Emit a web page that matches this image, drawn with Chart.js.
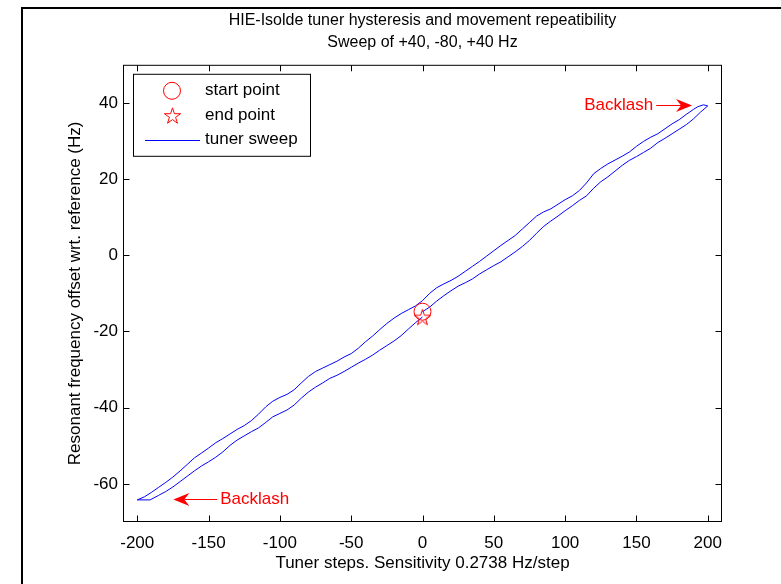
<!DOCTYPE html>
<html><head><meta charset="utf-8">
<script src="https://cdn.jsdelivr.net/npm/chart.js@4.4.0/dist/chart.umd.min.js"></script>
<style>
html,body{margin:0;padding:0;background:#fff;}
#wrap{position:relative;width:781px;height:584px;overflow:hidden;background:#fff;}
#frame{position:absolute;left:21px;top:7px;width:900px;height:700px;border-left:2px solid #000;border-top:2px solid #000;}
canvas{position:absolute;left:0;top:0;}
</style></head><body>
<div id="wrap"><div id="frame"></div><canvas id="c" width="781" height="584"></canvas></div>
<script>
// ---- text ----
const titleLines = ['HIE-Isolde tuner hysteresis and movement repeatibility', 'Sweep of +40, -80, +40 Hz'];
const xLabel = 'Tuner steps. Sensitivity 0.2738 Hz/step';
const yLabel = 'Resonant frequency offset wrt. reference (Hz)';
const legendLabels = ['start point', 'end point', 'tuner sweep'];
const noteText = 'Backlash';

// ---- axes ----
const xRange = [-210, 210];
const yRange = [-70, 50];
const xTicks = [-200, -150, -100, -50, 0, 50, 100, 150, 200];
const yTicks = [-60, -40, -20, 0, 20, 40];

// ---- sweep data (steps, Hz) ----
// leg 1: 0 -> +200 steps
const upSteps = [0,5,10,15,20,25,30,35,40,45,50,55,60,65,70,75,80,85,90,95,100,105,110,115,120,125,130,135,140,145,150,155,160,165,170,175,180,185,190,195,200];
const upFreq  = [-14.8,-13.6,-12.0,-10.6,-9.3,-8.1,-7.2,-6.2,-4.9,-3.8,-2.7,-1.7,-0.4,0.9,2.3,3.9,5.8,7.6,9.0,10.3,11.7,13.0,14.4,15.6,17.6,19.3,20.6,22.1,23.6,24.9,25.9,27.0,28.1,29.6,30.7,31.9,33.1,34.3,35.8,37.6,39.2];
// leg 2: +200 -> -200 steps
const downSteps = [197,193,190,185,180,175,170,165,160,155,150,145,140,135,130,125,120,115,110,105,100,95,90,85,80,75,70,65,60,55,50,45,40,35,30,25,20,15,10,5,0,-5,-10,-15,-20,-25,-30,-35,-40,-45,-50,-55,-60,-65,-70,-75,-80,-85,-90,-95,-100,-105,-110,-115,-120,-125,-130,-135,-140,-145,-150,-155,-160,-165,-170,-175,-180,-185,-190,-195,-200];
const downFreq  = [39.5,39.0,38.3,37.0,35.6,34.5,33.2,31.9,31.0,29.9,28.6,27.1,26.0,25.0,24.0,22.8,21.4,19.0,17.0,15.6,14.6,13.4,12.2,11.4,10.3,8.6,6.9,5.2,3.9,2.6,1.2,-0.2,-1.6,-2.9,-4.2,-5.5,-6.6,-7.5,-8.5,-10.0,-11.9,-13.3,-14.3,-15.3,-16.5,-17.9,-19.5,-21.2,-22.7,-24.4,-25.8,-26.7,-27.8,-28.7,-29.6,-30.5,-31.8,-33.5,-35.3,-36.5,-37.3,-38.3,-39.8,-41.7,-43.4,-44.7,-45.7,-46.9,-48.1,-49.2,-50.6,-51.9,-53.2,-54.9,-56.6,-58.2,-59.6,-60.9,-62.2,-63.4,-64.2];
// leg 3: -200 -> 0 steps
const returnSteps = [-191,-185,-180,-175,-170,-165,-160,-155,-150,-145,-140,-135,-130,-125,-120,-115,-110,-105,-100,-95,-90,-85,-80,-75,-70,-65,-60,-55,-50,-45,-40,-35,-30,-25,-20,-15,-10,-5,0];
const returnFreq  = [-64.2,-63.0,-62.0,-60.8,-59.4,-58.0,-56.6,-55.3,-54.2,-53.0,-51.6,-49.9,-48.5,-47.4,-46.3,-45.3,-43.9,-42.4,-41.5,-40.6,-39.3,-37.5,-35.9,-34.6,-33.5,-32.3,-31.5,-30.5,-29.4,-28.3,-27.3,-26.2,-24.9,-23.7,-22.5,-21.1,-19.4,-17.7,-16.2];

const startPoint = [0, -14.8];
const endPoint = [0, -16.2];

// annotation anchors (data coords): [textEdgeX, tipX, y]
const noteTop = [162.5, 189, 39.45];
const noteBottom = [-142.5, -174.7, -64.0];

// ---- build ----
const FONT = "'Liberation Sans', Arial, Helvetica, sans-serif";
Chart.defaults.font.family = FONT;
Chart.defaults.color = '#000';

const toPts = (xs, ys) => xs.map((v, i) => ({x: v, y: ys[i]}));
const sweep = [].concat(toPts(upSteps, upFreq), toPts(downSteps, downFreq), toPts(returnSteps, returnFreq));

function makeStar(R, color) {
  const s = Math.ceil(2 * R + 4);
  const c = document.createElement('canvas');
  c.width = s; c.height = s;
  const g = c.getContext('2d');
  g.strokeStyle = color; g.lineWidth = 1;
  g.beginPath();
  const cx = s / 2, cy = s / 2 + R * 0.1;
  for (let k = 0; k < 10; k++) {
    const r = k % 2 ? R * 0.382 : R;
    const a = -Math.PI / 2 + k * Math.PI / 5;
    const px = cx + r * Math.cos(a), py = cy + r * Math.sin(a);
    if (k) g.lineTo(px, py); else g.moveTo(px, py);
  }
  g.closePath(); g.stroke();
  return c;
}
const starImg = makeStar(8.5, '#ff0000');

const boxPlugin = {
  id: 'boxTicks',
  afterDraw(chart) {
    const {ctx, chartArea: a, scales: {x, y}} = chart;
    ctx.save();
    ctx.strokeStyle = '#000'; ctx.lineWidth = 1;
    const L = a.left + 0.5, R = a.right - 0.5, T = a.top + 0.5, B = a.bottom - 0.5;
    ctx.strokeRect(L, T, R - L, B - T);
    const tl = 6;
    ctx.beginPath();
    xTicks.forEach(v => {
      const p = Math.round(x.getPixelForValue(v)) + 0.5;
      ctx.moveTo(p, B); ctx.lineTo(p, B - tl);
      ctx.moveTo(p, T); ctx.lineTo(p, T + tl);
    });
    yTicks.forEach(v => {
      const p = Math.round(y.getPixelForValue(v)) + 0.5;
      ctx.moveTo(L, p); ctx.lineTo(L + tl, p);
      ctx.moveTo(R, p); ctx.lineTo(R - tl, p);
    });
    ctx.stroke();

    // annotations
    ctx.strokeStyle = '#ff0000'; ctx.fillStyle = '#ff0000';
    ctx.font = "17px " + FONT;
    ctx.textBaseline = 'middle';
    const arrow = (note, textAlign) => {
      const xe = x.getPixelForValue(note[0]);
      const xt = x.getPixelForValue(note[1]);
      const yy = Math.round(y.getPixelForValue(note[2])) + 0.5;
      const dir = Math.sign(xt - xe);
      ctx.textAlign = textAlign;
      ctx.fillText(noteText, xe - dir * 1, yy);
      const hl = 16, hw = 6.5, notch = 11;
      ctx.beginPath(); ctx.moveTo(xe + dir * 2, yy); ctx.lineTo(xt - dir * notch, yy); ctx.stroke();
      ctx.beginPath();
      ctx.moveTo(xt, yy);
      ctx.lineTo(xt - dir * hl, yy - hw);
      ctx.lineTo(xt - dir * notch, yy);
      ctx.lineTo(xt - dir * hl, yy + hw);
      ctx.closePath(); ctx.fill();
    };
    arrow(noteTop, 'right');
    arrow(noteBottom, 'left');

    // legend box
    const bx = a.left + 10, by = a.top + 9, bw = 177, bh = 82;
    ctx.fillStyle = '#fff';
    ctx.fillRect(bx, by, bw, bh);
    ctx.strokeStyle = '#000'; ctx.lineWidth = 1;
    ctx.strokeRect(bx + 0.5, by + 0.5, bw, bh);
    const rows = [by + 17, by + 42, by + 66];
    const mx = bx + 39;
    ctx.strokeStyle = '#ff0000';
    ctx.beginPath(); ctx.arc(mx, rows[0], 8.5, 0, Math.PI * 2); ctx.stroke();
    ctx.drawImage(starImg, Math.round(mx - starImg.width / 2), Math.round(rows[1] - starImg.height / 2));
    ctx.strokeStyle = '#0000ff';
    ctx.beginPath(); ctx.moveTo(bx + 12, Math.round(rows[2]) + 0.5); ctx.lineTo(bx + 67, Math.round(rows[2]) + 0.5); ctx.stroke();
    ctx.fillStyle = '#000';
    ctx.textAlign = 'left';
    ctx.font = "17px " + FONT;
    legendLabels.forEach((t, i) => ctx.fillText(t, bx + 72, rows[i]));
    ctx.restore();
  }
};

new Chart(document.getElementById('c'), {
  type: 'scatter',
  data: {
    datasets: [
      {label: legendLabels[0], data: [{x: startPoint[0], y: startPoint[1]}], pointStyle: 'circle', pointRadius: 8.5, borderColor: '#ff0000', backgroundColor: 'rgba(0,0,0,0)', borderWidth: 1, showLine: false, order: 1},
      {label: legendLabels[1], data: [{x: endPoint[0], y: endPoint[1]}], pointStyle: starImg, pointRadius: 8, borderColor: '#ff0000', showLine: false, order: 1},
      {label: legendLabels[2], data: sweep, showLine: true, borderColor: '#0000ff', backgroundColor: '#0000ff', borderWidth: 1, pointRadius: 0, tension: 0, order: 2}
    ]
  },
  options: {
    responsive: false,
    animation: false,
    events: [],
    layout: {padding: {left: 0, right: 59, top: 0, bottom: 0}},
    plugins: {
      legend: {display: false},
      tooltip: {enabled: false},
      title: {
        display: true, text: titleLines, fullSize: false, color: '#000',
        font: {size: 16, weight: 'normal', lineHeight: 1.4},
        padding: {top: 9, bottom: 11}
      }
    },
    scales: {
      x: {
        type: 'linear', position: 'bottom', min: xRange[0], max: xRange[1],
        grid: {display: false, drawTicks: false},
        border: {display: false},
        afterBuildTicks: s => { s.ticks = xTicks.map(v => ({value: v})); },
        afterFit: s => { s.height = 62; },
        ticks: {font: {size: 17}, color: '#000', padding: 11, maxRotation: 0, autoSkip: false, callback: v => String(v)},
        title: {display: true, text: xLabel, color: '#000', font: {size: 17, lineHeight: 1.2}, padding: {top: 0, bottom: 10}}
      },
      y: {
        type: 'linear', position: 'left', min: yRange[0], max: yRange[1],
        grid: {display: false, drawTicks: false},
        border: {display: false},
        afterBuildTicks: s => { s.ticks = yTicks.map(v => ({value: v})); },
        afterFit: s => { s.width = 123; },
        ticks: {font: {size: 17}, color: '#000', padding: 5, autoSkip: false, callback: v => String(v)},
        title: {display: true, text: yLabel, color: '#000', font: {size: 17, lineHeight: 1.2}, padding: {top: 65, bottom: 0}}
      }
    }
  },
  plugins: [boxPlugin]
});
</script>
</body></html>
